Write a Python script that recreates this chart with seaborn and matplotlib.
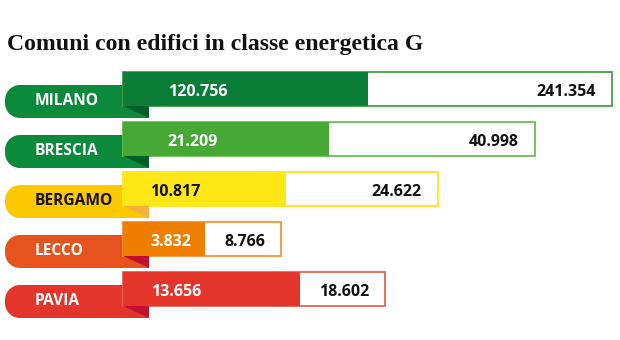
import numpy as np
import pandas as pd
import matplotlib
matplotlib.use("Agg")
import matplotlib.pyplot as plt
from matplotlib import font_manager as fm
from matplotlib.patches import Polygon
import seaborn as sns

# ---- data ----
cities = ["MILANO", "BRESCIA", "BERGAMO", "LECCO", "PAVIA"]
class_g = [120756, 21209, 10817, 3832, 13656]
totals = [241354, 40998, 24622, 8766, 18602]
# bar lengths as drawn in the original graphic (not to scale with the values)
fill_len = [245, 206, 163, 82, 177]
total_len = [489, 412, 315, 158, 262]
title = "Comuni con edifici in classe energetica G"

# ---- styles ----
bar_colors = ["#0A7E36", "#46A933", "#FFE616", "#EF7D00", "#E4352D"]
edge_colors = ["#44A046", "#6BBE4E", "#FFE616", "#F39433", "#EE5E52"]
ribbon_colors = ["#0B8A3B", "#0B8A3B", "#FDC800", "#E5541F", "#E4352D"]
fold_colors = ["#005E2B", "#005E2B", "#F7AE3C", "#C2102E", "#C2102E"]
label_colors = ["white", "white", "#111111", "white", "white"]
fill_text_colors = ["white", "white", "#111111", "white", "white"]
fill_text_x = [45, 44, 27, 27, 28]

sns.set_style("white")
plt.rcParams["font.family"] = ["Open Sans", "DejaVu Sans"]

names = {f.name for f in fm.fontManager.ttflist}


def fmt(v):
    return f"{v:,}".replace(",", ".")


fig = plt.figure(figsize=(6.2, 3.4), dpi=100)
ax = fig.add_axes([0, 0, 1, 1])

df = pd.DataFrame({"city": cities, "total_len": total_len, "fill_len": fill_len})

sns.barplot(data=df, x="total_len", y="city", hue="city", palette=["#FFFFFF"] * 5,
            legend=False, width=0.68, saturation=1, ax=ax)
for cont, ec in zip(ax.containers, edge_colors):
    for p in cont:
        p.set_edgecolor(ec)
        p.set_linewidth(1.3)
        p.set_zorder(2)
n0 = len(ax.containers)
sns.barplot(data=df, x="fill_len", y="city", hue="city", palette=bar_colors,
            legend=False, width=0.68, saturation=1, linewidth=0, ax=ax)
for cont in ax.containers[n0:]:
    for p in cont:
        p.set_zorder(2.5)

# ribbons
x0, x1, r = -118, 26, 15
ry = r / 50.0
for i, city in enumerate(cities):
    top, bot = i - 0.08, i + 0.58
    t = np.linspace(0, np.pi / 2, 20)
    cx, cy1, cy2 = x0 + r, top + ry, bot - ry
    pts = [(x1, top)]
    pts += list(zip(cx - r * np.sin(t), cy1 - ry * np.cos(t)))
    pts += list(zip(cx - r * np.cos(t), cy2 + ry * np.sin(t)))
    pts += [(x1, bot)]
    ax.add_patch(Polygon(pts, closed=True, facecolor=ribbon_colors[i], edgecolor="none", zorder=1))
    ax.add_patch(Polygon([(0, i + 0.34), (x1, i + 0.34), (x1, bot)], closed=True,
                         facecolor=fold_colors[i], edgecolor="none", zorder=3))
    ax.text(-88, i + 0.23, city, ha="left", va="center", color=label_colors[i],
            fontsize=11.2, fontweight="bold", zorder=4)
    ax.text(fill_text_x[i], i + 0.05, fmt(class_g[i]), ha="left", va="center",
            color=fill_text_colors[i], fontsize=11.5, fontweight="bold", zorder=4)
    ax.text(total_len[i] - 16, i + 0.05, fmt(totals[i]), ha="right", va="center",
            color="#111111", fontsize=11.5, fontweight="bold", zorder=4)

ax.set_xlim(-123, 497)
ax.set_ylim(5.02, -1.78)
ax.axis("off")

# title font: prefer a condensed serif, else a Times-like serif
serif_family, serif_stretch = ["DejaVu Serif"], "normal"
for f in fm.fontManager.ttflist:
    if "Serif" in f.name and "Condensed" in f.name:
        serif_family, serif_stretch = [f.name], "condensed"
        break
else:
    if "Liberation Serif" in names:
        serif_family = ["Liberation Serif"]

tt = fig.text(7 / 620, 1 - 50 / 340, title, ha="left", va="baseline",
              fontfamily=serif_family, fontstretch=serif_stretch,
              fontweight="bold", fontsize=18, color="#111111")
renderer = fig.canvas.get_renderer()
w = tt.get_window_extent(renderer).width
tt.set_fontsize(18 * 415 / w)

fig.savefig("out.png", dpi=100, facecolor="white")
